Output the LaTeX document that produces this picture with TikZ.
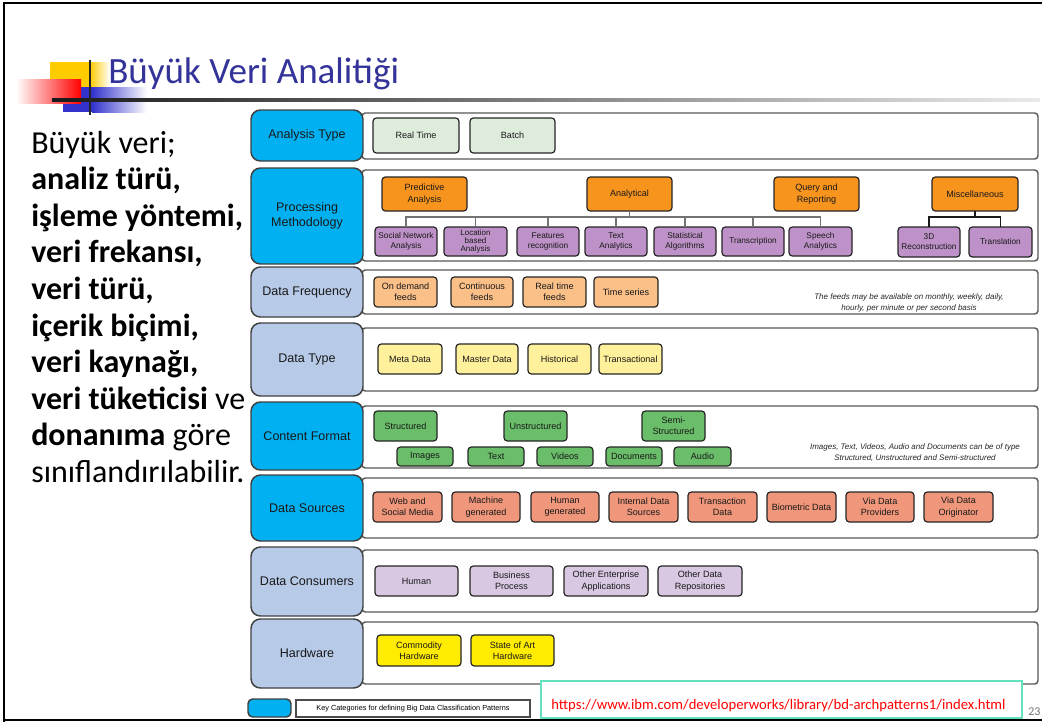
\documentclass[tikz,border=0pt]{standalone}
\usepackage{fontspec}
\setmainfont{Carlito}
\newfontfamily\arial{Liberation Sans}
\usetikzlibrary{calc}
\definecolor{titleblue}{RGB}{51,51,153}
\definecolor{catcyan}{RGB}{0,176,240}
\definecolor{catlb}{RGB}{183,202,232}
\definecolor{cgreen}{RGB}{222,236,220}
\definecolor{corange}{RGB}{247,148,30}
\definecolor{cpurple}{RGB}{190,146,200}
\definecolor{cpeach}{RGB}{250,192,136}
\definecolor{cyel}{RGB}{255,240,155}
\definecolor{cgrn}{RGB}{106,190,106}
\definecolor{csalmon}{RGB}{240,150,122}
\definecolor{clav}{RGB}{216,200,226}
\definecolor{chw}{RGB}{255,236,0}
\definecolor{decoyellow}{RGB}{255,204,0}
\definecolor{decoblue}{RGB}{51,51,204}
\definecolor{urlteal}{RGB}{100,225,190}
\newcommand\mybox[7]{\node[#6, minimum width={(#4-#2)*0.75pt}, minimum height={(#5-#3)*0.75pt}] (#1) at ({(#2+#4)/2},{(#3+#5)/2}) {#7};}
\tikzset{
  cat/.style={draw=black!75, line width=1.1pt, rounded corners=7pt, inner sep=0pt, outer sep=0pt, font=\arial\fontsize{9.4}{11.3}\selectfont, align=center, text=black!90},
  bx/.style={draw=black!85, line width=0.9pt, rounded corners=2.5pt, inner sep=0pt, outer sep=0pt, font=\arial\fontsize{6.8}{8.6}\selectfont, align=center, text=black!90},
  rowbox/.style={draw=black!65, line width=1.1pt, rounded corners=2.5pt, fill=white, inner sep=0pt, outer sep=0pt},
  note/.style={font=\arial\itshape\fontsize{6}{8.2}\selectfont, align=center, text=black!85, inner sep=0pt},
  conn/.style={draw=black!55, line width=0.8pt},
  conn2/.style={draw=black!90, line width=0.8pt},
  body/.style={anchor=base west, inner sep=0pt, font=\fontsize{24}{28}\selectfont}
}
\begin{document}
\begin{tikzpicture}[x=0.75pt,y=-0.75pt]
\useasboundingbox (0,0) rectangle (1042,722);
\fill[white] (0,0) rectangle (1042,722);
% frame
\draw[line width=2.2pt] (4,722) -- (4,3) -- (1042,3);
\draw[line width=2.2pt] (4,720) -- (1042,720);
% title decoration
\fill[decoyellow] (50,62) rectangle (90,87);
\shade[left color=decoyellow, right color=white] (90,62) rectangle (110,87);
\fill[decoblue] (63,87) rectangle (92,112);
\shade[left color=decoblue, right color=white] (92,87) rectangle (147,112);
\shade[left color=white, right color=red] (16,79) rectangle (81,103);
\shade[left color=black!90, right color=black!8] (52,98.6) rectangle (1040,101.4);
\draw[line width=2.2pt, black!85] (90,60) -- (90,115);
\node[anchor=base west, inner sep=0pt, text=titleblue, font=\fontsize{27.8}{33}\selectfont] (title) at (108,83) {Büyük Veri Analitiği};
% left text
\node[body] (l1) at (31,153) {Büyük veri;};
\node[body] (l2) at (31,189.6) {\textbf{analiz türü,}};
\node[body] (l3) at (31,226.2) {\textbf{işleme yöntemi,}};
\node[body] (l4) at (31,262.8) {\textbf{veri frekansı,}};
\node[body] (l5) at (31,299.4) {\textbf{veri türü,}};
\node[body] (l6) at (31,336) {\textbf{içerik biçimi,}};
\node[body] (l7) at (31,372.6) {\textbf{veri kaynağı,}};
\node[body] (l8) at (31,409.2) {\textbf{veri tüketicisi} ve};
\node[body] (l9) at (31,445.8) {\textbf{donanıma} göre};
\node[body] (l10) at (31,482.4) {sınıflandırılabilir.};
% Row 1
\mybox{r1}{362}{113}{1038}{159}{rowbox}{}
\mybox{c1}{251}{110}{363}{161}{cat,fill=catcyan}{Analysis Type}
\mybox{rt}{373}{118}{459}{153}{bx,fill=cgreen}{Real Time}
\mybox{bat}{470}{118}{555}{153}{bx,fill=cgreen}{Batch}
% Row 2
\mybox{r2}{362}{170}{1038}{261}{rowbox}{}
\mybox{c2}{251}{168}{363}{264}{cat,fill=catcyan}{Processing\\Methodology}
\mybox{pred}{382}{177}{467}{211}{bx,fill=corange}{Predictive\\Analysis}
\mybox{ana}{587}{177}{672}{211}{bx,fill=corange}{Analytical}
\mybox{qry}{774}{177}{859}{211}{bx,fill=corange}{Query and\\Reporting}
\mybox{misc}{932}{177}{1018}{211}{bx,fill=corange}{Miscellaneous}
\mybox{soc}{375}{227}{437}{256}{bx,fill=cpurple,font=\arial\fontsize{6.2}{7.6}\selectfont}{Social Network\\Analysis}
\mybox{loc}{444}{227}{507}{256}{bx,fill=cpurple,font=\arial\fontsize{6}{6.3}\selectfont}{Location\\based\\Analysis}
\mybox{feat}{517}{227}{579}{256}{bx,fill=cpurple,font=\arial\fontsize{6.2}{7.6}\selectfont}{Features\\recognition}
\mybox{txt}{585}{227}{647}{256}{bx,fill=cpurple,font=\arial\fontsize{6.2}{7.6}\selectfont}{Text\\Analytics}
\mybox{stat}{654}{227}{716}{256}{bx,fill=cpurple,font=\arial\fontsize{6.2}{7.6}\selectfont}{Statistical\\Algorithms}
\mybox{tra}{722}{227}{784}{256}{bx,fill=cpurple,font=\arial\fontsize{6.2}{7.6}\selectfont}{Transcription}
\mybox{spe}{789}{227}{852}{256}{bx,fill=cpurple,font=\arial\fontsize{6.2}{7.6}\selectfont}{Speech\\Analytics}
\mybox{td}{898}{227}{960}{257}{bx,fill=cpurple,font=\arial\fontsize{6.2}{7.6}\selectfont}{3D\\Reconstruction}
\mybox{tsl}{969}{227}{1032}{257}{bx,fill=cpurple,font=\arial\fontsize{6.2}{7.6}\selectfont}{Translation}
\coordinate (bus) at (630,217);
\foreach \n in {soc,loc,feat,txt,stat,tra,spe} \draw[conn] (ana.south) -- (ana.south |- bus) -| (\n.north);
\coordinate (bus2) at (974,217);
\foreach \n in {td,tsl} \draw[conn2] (misc.south) -- (misc.south |- bus2) -| (\n.north);
% Row 3
\mybox{r3}{362}{270}{1038}{314}{rowbox}{}
\mybox{c3}{251}{267}{363}{317}{cat,fill=catlb}{Data Frequency}
\mybox{odf}{374}{277}{437}{307}{bx,fill=cpeach}{On demand\\feeds}
\mybox{cf}{451}{277}{513}{307}{bx,fill=cpeach}{Continuous\\feeds}
\mybox{rtf}{523}{277}{586}{307}{bx,fill=cpeach}{Real time\\feeds}
\mybox{ts}{594}{277}{658}{307}{bx,fill=cpeach}{Time series}
\node[note] (n1) at (909,302.5) {The feeds may be available on monthly, weekly, daily,\\hourly, per minute or per second basis};
% Row 4
\mybox{r4}{362}{328}{1038}{391}{rowbox}{}
\mybox{c4}{251}{323}{363}{396}{cat,fill=catlb}{Data Type}
\mybox{md}{378}{344}{442}{374}{bx,fill=cyel}{Meta Data}
\mybox{msd}{456}{344}{518}{374}{bx,fill=cyel}{Master Data}
\mybox{his}{528}{344}{591}{374}{bx,fill=cyel}{Historical}
\mybox{trn}{599}{344}{662}{374}{bx,fill=cyel}{Transactional}
% Row 5
\mybox{r5}{362}{406}{1038}{468}{rowbox}{}
\mybox{c5}{251}{402}{363}{470}{cat,fill=catcyan}{Content Format}
\mybox{str}{374}{411}{437}{441}{bx,fill=cgrn}{Structured}
\mybox{ustr}{504}{411}{567}{441}{bx,fill=cgrn}{Unstructured}
\mybox{sstr}{642}{411}{705}{441}{bx,fill=cgrn}{Semi-\\Structured}
\mybox{img}{397}{447}{453}{466}{bx,fill=cgrn}{Images}
\mybox{tx}{468}{447}{524}{466}{bx,fill=cgrn}{Text}
\mybox{vid}{537}{447}{593}{466}{bx,fill=cgrn}{Videos}
\mybox{doc}{606}{447}{662}{466}{bx,fill=cgrn}{Documents}
\mybox{aud}{674}{447}{731}{466}{bx,fill=cgrn}{Audio}
\node[note] (n2) at (915,453) {Images, Text, Videos, Audio and Documents can be of type\\Structured, Unstructured and Semi-structured};
% Row 6
\mybox{r6}{362}{478}{1038}{538}{rowbox}{}
\mybox{c6}{251}{475}{363}{541}{cat,fill=catcyan}{Data Sources}
\mybox{web}{373}{492}{442}{522}{bx,fill=csalmon}{Web and\\Social Media}
\mybox{mac}{452}{492}{520}{522}{bx,fill=csalmon}{Machine\\generated}
\mybox{hum}{531}{492}{599}{522}{bx,fill=csalmon}{Human\\generated}
\mybox{ids}{609}{492}{678}{522}{bx,fill=csalmon}{Internal Data\\Sources}
\mybox{trd}{688}{492}{757}{522}{bx,fill=csalmon}{Transaction\\Data}
\mybox{bio}{767}{492}{836}{522}{bx,fill=csalmon}{Biometric Data}
\mybox{vdp}{846}{492}{914}{522}{bx,fill=csalmon}{Via Data\\Providers}
\mybox{vdo}{924}{492}{993}{522}{bx,fill=csalmon}{Via Data\\Originator}
% Row 7
\mybox{r7}{362}{550}{1038}{612}{rowbox}{}
\mybox{c7}{251}{547}{363}{616}{cat,fill=catlb}{Data Consumers}
\mybox{hmn}{375}{566}{458}{596}{bx,fill=clav}{Human}
\mybox{bp}{470}{566}{553}{596}{bx,fill=clav}{Business\\Process}
\mybox{oea}{564}{566}{648}{596}{bx,fill=clav}{Other Enterprise\\Applications}
\mybox{odr}{658}{566}{742}{596}{bx,fill=clav}{Other Data\\Repositories}
% Row 8
\mybox{r8}{362}{622}{1038}{684}{rowbox}{}
\mybox{c8}{251}{619}{363}{688}{cat,fill=catlb}{Hardware}
\mybox{chw}{377}{635}{461}{666}{bx,fill=chw}{Commodity\\Hardware}
\mybox{sah}{471}{635}{554}{666}{bx,fill=chw}{State of Art\\Hardware}
% legend
\mybox{lg}{248}{699}{291}{717}{cat,fill=catcyan,rounded corners=3.5pt}{}
\mybox{key}{296}{700}{530}{717}{draw=black!70, line width=0.8pt, fill=white, inner sep=0pt, font=\arial\fontsize{5.5}{6}\selectfont}{Key Categories for defining Big Data Classification Patterns}
% url
\mybox{url}{541}{681}{1022}{718}{draw=urlteal, line width=0.9pt, fill=white, inner sep=0pt}{}
\node[anchor=base west, inner sep=0pt, text=red, font=\fontsize{11}{13}\selectfont] (urltext) at (551,709) {https://www.ibm.com/developerworks/library/bd-archpatterns1/index.html};
\node[anchor=base west, inner sep=0pt, text=black!55, font=\fontsize{9}{10}\selectfont] (pg) at (1028,715) {23};
\end{tikzpicture}
\end{document}
